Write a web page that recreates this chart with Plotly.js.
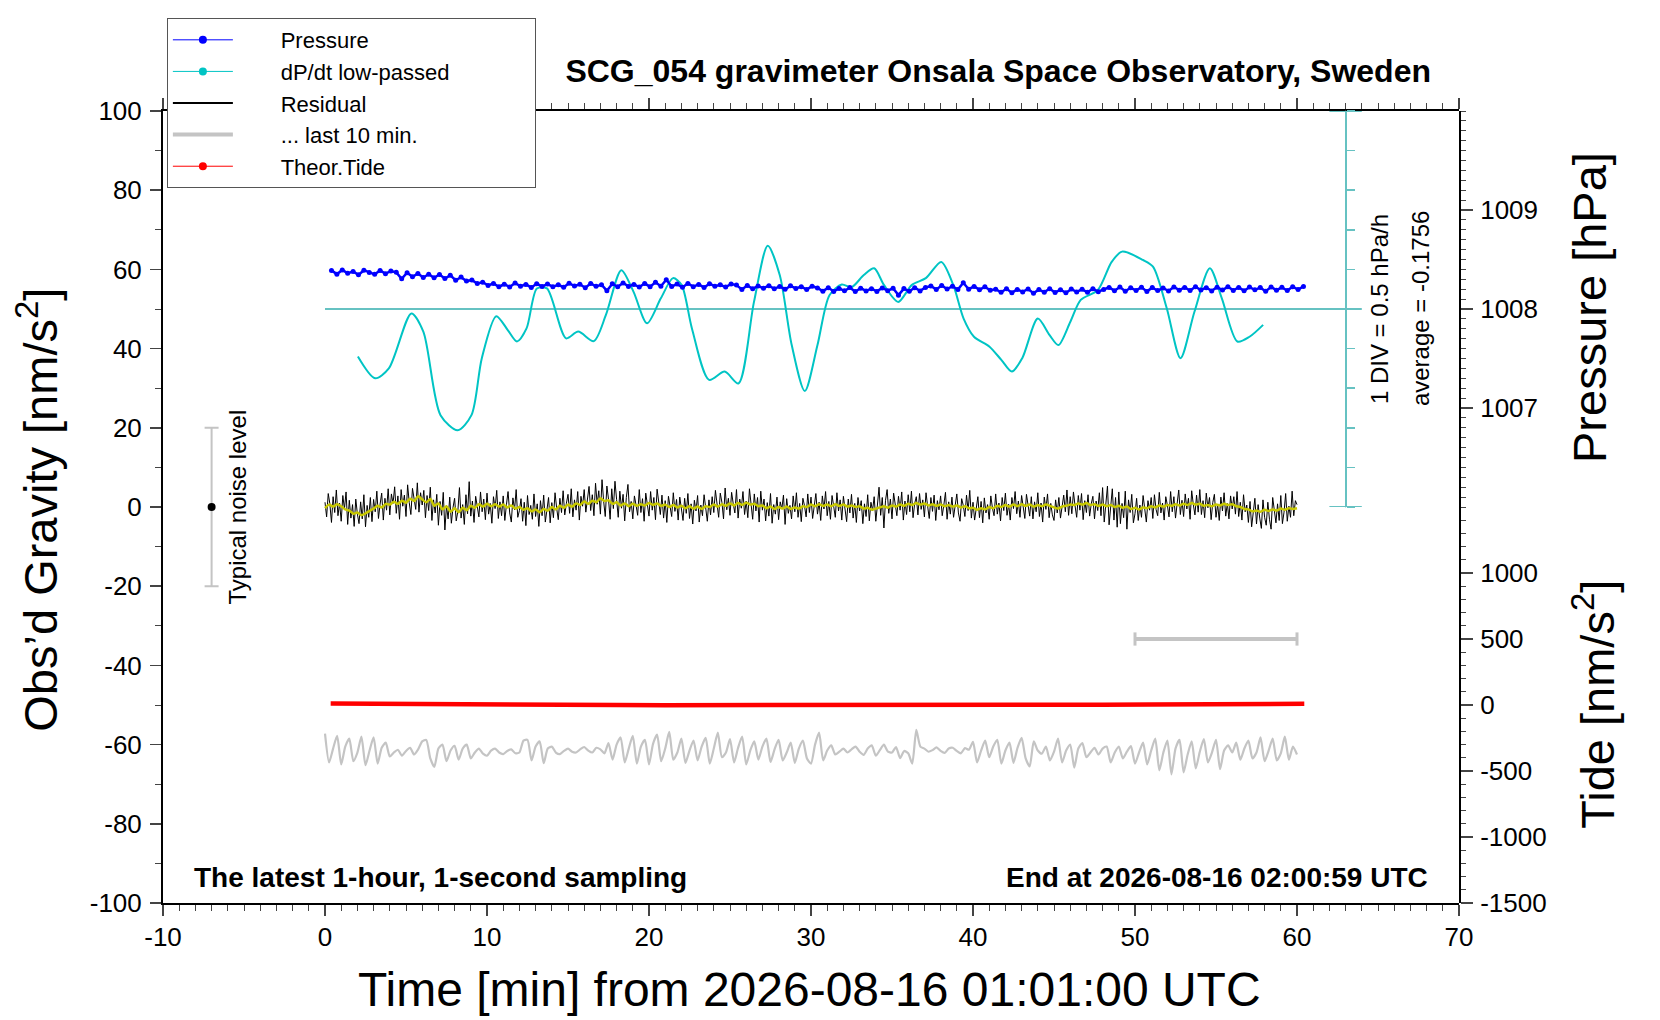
<!DOCTYPE html>
<html><head><meta charset="utf-8">
<script src="https://cdn.plot.ly/plotly-3.0.1.min.js"></script>
<style>html,body{margin:0;padding:0;background:#fff}#chart{width:1660px;height:1020px}</style>
</head><body><div id="chart"></div>
<script>
// ---------------- DATA ----------------
// Pressure [hPa], 20-s samples starting at t=0.4 min
const pressureStart = 0.4, pressureStep = 1/3;
const pressure = [
1008.390,1008.352,1008.395,1008.360,1008.380,1008.345,1008.392,1008.368,1008.350,1008.388,1008.357,1008.383,
1008.370,1008.305,1008.366,1008.325,1008.358,1008.318,1008.352,1008.315,1008.348,1008.308,1008.340,1008.290,
1008.322,1008.282,1008.292,1008.258,1008.270,1008.238,
1008.258,1008.225,1008.250,1008.222,1008.262,1008.230,1008.248,1008.218,1008.255,1008.228,1008.252,1008.226,1008.244,1008.220,1008.260,
1008.232,1008.250,1008.215,1008.258,1008.229,1008.246,1008.185,1008.255,1008.224,1008.262,1008.228,1008.248,1008.222,1008.257,1008.226,
1008.270,1008.230,1008.295,1008.228,1008.252,1008.220,1008.258,1008.226,1008.248,1008.218,1008.256,1008.231,1008.245,1008.221,1008.253,
1008.242,1008.198,1008.238,1008.205,1008.232,1008.210,1008.236,1008.204,1008.228,1008.200,1008.234,1008.208,1008.226,1008.196,1008.230,
1008.212,1008.180,1008.214,1008.178,1008.208,1008.184,1008.216,1008.176,1008.210,1008.182,1008.205,1008.178,1008.213,1008.185,1008.209,
1008.140,1008.206,1008.179,1008.215,1008.183,1008.218,
1008.232,1008.198,1008.238,1008.202,1008.230,1008.196,1008.265,1008.200,1008.228,1008.195,1008.224,1008.190,
1008.200,1008.168,1008.204,1008.165,1008.198,1008.172,1008.202,1008.160,1008.196,1008.170,1008.205,1008.167,1008.195,1008.163,1008.201,
1008.172,1008.199,1008.168,1008.204,1008.175,1008.197,
1008.218,1008.185,1008.222,1008.180,1008.214,1008.188,1008.219,1008.178,1008.216,1008.186,1008.212,1008.182,
1008.222,1008.190,1008.218,1008.186,1008.225,1008.192,1008.215,1008.183,1008.220,1008.191,1008.224,1008.188,1008.217,1008.185,1008.221,
1008.194,1008.216,1008.180,1008.223,1008.190,1008.219,1008.187,1008.226,1008.196,1008.228
];

// dP/dt low-passed [hPa/h]
const dpdtAverage = -0.1756;
const dpdtDiv = 0.5;
const dpdtTime = [2.03,3.09,3.94,5.33,6.07,7.13,8.19,9.04,9.68,10.57,11.28,11.85,12.44,13.08,13.70,14.88,15.63,16.59,17.34,18.29,
19.04,19.88,20.73,21.48,22.01,22.65,23.71,24.67,25.52,26.48,27.33,28.07,28.81,29.62,30.40,31.14,31.90,32.50,33.26,33.90,
34.50,35.38,36.23,37.09,38.04,38.78,39.42,40.06,41.02,41.76,42.40,43.04,44.00,44.73,45.27,46.01,46.65,47.71,48.56,49.20,
50.48,51.11,51.96,52.81,53.67,54.62,55.36,56.32,57.07,57.91];
const dpdtValues = [-0.776,-1.051,-0.926,-0.231,-0.461,-1.516,-1.706,-1.516,-0.796,-0.266,-0.441,-0.586,-0.421,0.084,0.084,-0.546,-0.461,-0.581,-0.251,0.314,
0.044,-0.356,-0.041,0.214,0.129,-0.421,-1.071,-0.966,-1.116,-0.086,0.624,0.254,-0.631,-1.211,-0.631,-0.001,0.134,0.099,0.254,0.339,
0.129,-0.086,0.129,0.214,0.419,0.129,-0.296,-0.526,-0.651,-0.821,-0.966,-0.796,-0.296,-0.506,-0.631,-0.336,-0.061,0.064,0.419,0.549,
0.444,0.359,-0.166,-0.796,-0.211,0.339,-0.041,-0.586,-0.526,-0.376];
const dpdtLineX = [0, 64];
const divScaleX = 63;

// Residual [nm/s^2], 6-s samples from t=0 (one row = 1 minute)
const residualStart = 0, residualStep = 0.1;
const residual = [
1.2,-2.5,3.4,0.8,-3.9,2.6,-1.4,4.3,-2.2,1.0,
-3.6,2.9,-0.5,3.8,-4.4,1.7,-2.8,0.6,-4.9,2.0,
-1.8,-4.2,1.3,-3.0,3.1,-5.0,0.4,-2.6,2.4,-3.7,
1.9,-1.2,4.0,-2.9,0.7,3.5,-3.3,2.2,-0.8,4.6,
-2.0,3.3,0.9,5.1,-1.6,2.8,-3.1,4.4,0.2,3.0,
-2.4,5.6,1.1,-1.9,4.7,2.3,-0.6,6.1,-1.3,3.6,
0.5,4.2,-2.7,2.9,-0.9,5.0,-3.4,1.8,-1.5,3.2,
-4.6,1.4,-2.1,3.7,-5.8,0.3,-3.0,2.5,-4.1,-0.2,
2.2,-3.5,-1.1,4.9,-2.8,0.6,-4.4,3.1,-1.7,6.4,
-2.3,1.5,-3.9,2.7,0.1,-2.5,3.8,-1.2,2.0,-3.2,
3.5,-1.8,0.9,-4.1,2.6,-0.4,4.2,-2.9,1.3,-2.2,
2.8,-3.4,0.6,3.9,-1.5,-3.8,2.3,-0.7,4.4,-2.6,
-0.9,2.1,-3.6,1.2,-4.7,2.9,-1.9,0.4,-3.1,3.3,
-2.4,0.8,-4.9,1.6,-2.2,3.0,-3.8,-0.6,2.4,-4.0,
1.1,-2.7,3.6,-0.3,-3.2,2.2,-1.4,4.1,-2.0,0.9,
3.2,-1.6,4.6,-2.5,1.8,-0.8,3.9,-3.3,2.7,0.2,
4.4,-1.3,2.6,5.2,-0.9,3.1,-2.2,6.0,0.7,4.1,
-1.8,6.9,1.5,-2.4,5.3,2.0,-3.1,4.6,-0.4,6.5,
1.9,-2.6,4.0,-0.3,3.2,-3.5,2.4,5.7,-1.2,1.4,
-3.0,2.8,0.5,-2.1,4.4,-1.4,2.1,-3.6,3.5,0.6,
-2.3,3.9,-0.8,2.4,-3.2,4.5,0.9,-1.9,3.0,-2.8,
1.6,-3.9,2.7,0.3,-2.4,3.6,-1.1,1.9,-3.3,2.5,
-0.6,-3.4,2.2,-1.6,3.4,-2.9,0.8,-4.3,1.7,-1.0,
2.9,-3.8,0.5,-2.2,3.1,-0.4,-3.6,1.8,-2.0,2.6,
-1.4,4.2,0.3,-2.6,3.5,1.2,-3.0,4.8,-0.7,2.2,
-2.1,3.7,0.8,-1.5,4.4,-2.8,2.0,-0.3,3.9,-1.9,
1.5,-2.7,4.6,0.2,-3.1,3.3,-1.0,2.4,-3.8,4.0,
-0.8,2.0,-3.5,1.1,-2.3,3.4,-4.1,0.6,-1.8,2.5,
-3.2,1.3,-0.5,3.0,-4.4,2.1,-1.6,0.4,-3.0,2.8,
-1.2,3.6,-2.6,0.9,-3.7,2.2,0.3,-2.5,3.3,-1.4,
2.5,-2.9,0.6,3.4,-1.8,1.2,-3.4,2.8,-0.5,3.9,
-2.2,1.4,-3.1,2.9,0.2,-2.6,3.6,-1.0,1.8,-3.3,
2.7,-0.6,-3.7,2.0,-1.5,3.2,-2.8,0.9,-3.9,2.4,
-1.0,1.6,-4.2,0.8,-2.4,3.1,-3.5,1.2,-0.9,2.6,
-3.6,0.5,5.0,-2.1,2.4,-5.3,1.7,4.4,-1.6,2.0,
-3.0,3.5,0.4,-2.2,2.7,-0.8,3.8,-3.3,1.5,-1.9,
3.1,-1.2,4.0,-2.7,0.9,2.6,-2.0,3.4,-0.6,1.8,
-2.5,3.6,0.2,-2.9,2.4,-1.1,3.0,-3.4,1.6,-0.7,
2.8,-2.2,0.5,3.7,-3.1,1.3,-1.8,2.5,-2.6,0.8,
3.3,-1.5,-3.6,2.1,0.4,-2.4,3.0,-0.9,4.2,-2.8,
1.2,-3.3,-0.8,2.6,-2.7,1.4,-4.0,2.3,-1.5,0.6,
-3.1,2.8,-0.3,-2.2,3.3,-1.8,1.0,-3.5,2.4,-0.9,
3.5,-2.1,0.7,-3.3,2.4,-0.4,3.9,-1.7,1.5,-2.6,
2.9,-0.8,-2.9,3.2,0.4,-2.3,2.6,-3.0,1.3,-1.2,
3.6,-2.4,1.0,-3.8,2.5,-0.6,3.3,-2.7,0.9,-2.0,
-3.4,1.8,-1.5,2.4,-2.8,0.6,3.0,-1.2,4.3,-2.1,
2.6,-1.7,3.8,0.3,-2.6,2.9,-0.8,3.4,-3.2,1.6,
-1.4,3.1,-2.3,0.8,2.7,-3.0,1.5,-0.9,3.6,-2.2,
4.9,-3.8,1.2,5.3,-4.5,0.6,4.6,-3.3,2.4,-5.1,
3.8,-4.2,0.9,-2.7,4.0,-5.6,1.8,-1.4,3.2,-4.0,
-1.7,2.2,-3.4,0.5,-2.6,2.9,-1.1,-3.8,1.6,-0.8,
2.4,-2.9,3.1,-0.6,-2.2,3.7,-1.5,1.0,-3.3,2.6,
0.4,-2.5,3.9,-1.2,2.6,-2.8,0.8,4.3,-1.9,1.7,
-2.4,3.3,-0.5,2.2,-3.1,4.1,0.6,-2.0,3.0,-1.3,
4.4,-1.9,1.6,-2.7,3.5,-0.2,2.4,-3.2,1.1,3.2,
-2.6,0.7,-3.4,2.5,-1.0,3.6,-2.3,0.9,-3.0,2.8,
-0.5,2.6,-1.8,3.9,-2.4,1.2,-3.3,3.1,-1.2,0.5,
-3.9,1.4,-5.0,-1.6,2.2,-4.3,0.6,-2.8,-5.4,1.8,
-2.6,-4.6,1.2,-3.1,-5.6,2.4,-1.7,-4.0,0.8,-3.4,
2.9,-4.2,-1.3,3.4,-3.6,0.2,-2.6,4.0,-2.2,1.6,
0.6];

// Low-passed residual (yellow), 15-s samples from t=0
const smoothStart = 0, smoothStep = 0.25;
const residualSmooth = [
-0.3,0.6,0.1,0.7,0.2,-0.6,-0.9,-1.7,-1.4,-2.1,-1.6,-1.0,
-0.4,0.3,-0.1,0.8,0.6,1.3,0.8,1.6,1.1,2.1,1.5,2.7,
1.9,1.2,2.0,0.3,0.9,-0.6,0.2,-1.2,-0.3,-1.3,-0.2,-0.8,
0.3,-0.2,0.7,0.1,0.8,0.2,0.7,0.1,0.6,-0.1,0.4,-0.4,
0.0,-0.7,-0.3,-1.1,-0.6,-1.3,-0.5,-0.9,0.0,-0.6,0.3,-0.2,
0.6,0.1,0.9,0.5,1.4,0.8,1.6,1.2,2.2,1.5,1.7,0.8,
1.2,0.4,0.9,0.2,0.8,0.3,0.7,0.4,1.0,0.5,0.9,0.3,
0.6,0.0,0.5,-0.1,0.3,-0.3,0.2,-0.4,0.1,-0.5,0.2,0.0,
0.6,0.1,0.7,0.3,0.9,0.4,1.0,0.5,1.1,0.6,0.8,0.2,
0.4,-0.3,0.1,-0.5,0.0,-0.4,0.1,-0.5,-0.1,-0.4,0.2,0.0,
0.6,0.2,0.7,0.3,0.6,0.2,0.7,0.3,0.6,0.1,0.4,0.0,
0.2,-0.4,-0.2,-0.7,-0.4,-0.1,0.2,-0.2,0.4,0.1,0.6,0.3,
0.8,0.5,1.0,0.6,0.9,0.4,0.7,0.3,0.6,0.2,0.5,0.1,
0.4,-0.1,0.2,-0.3,-0.2,-0.7,-0.3,-0.6,0.0,-0.3,0.3,0.0,
0.5,0.1,0.6,0.2,0.7,0.3,0.6,0.1,0.5,0.2,0.6,0.3,
-0.1,-0.4,0.1,0.3,0.6,0.5,0.9,0.6,1.0,0.5,0.7,0.3,
0.6,0.2,0.5,0.0,0.3,-0.2,0.1,-0.5,-0.2,-0.6,-0.1,-0.3,
0.2,-0.1,0.4,0.1,0.5,0.3,0.7,0.4,0.8,0.5,1.0,0.6,
0.8,0.3,0.5,0.2,0.6,0.4,0.8,0.5,0.7,0.2,0.0,-0.5,
-0.6,-1.1,-0.9,-1.2,-0.7,-1.0,-0.6,-0.9,-0.4,-0.7,-0.3,-0.5,
-0.3];

// "... last 10 min." residual, drawn stretched over the hour, 15-s steps
const lastTenStart = 0, lastTenStep = 0.25;
const lastTen = [
-57.2,-64.5,-61.0,-57.8,-65.0,-60.5,-58.5,-64.2,-62.0,-58.0,-65.2,-61.5,
-58.2,-64.8,-60.8,-59.5,-63.0,-62.0,-61.3,-62.8,-61.6,-60.8,-62.5,-61.2,
-59.2,-58.8,-63.5,-65.6,-61.0,-60.0,-64.2,-61.5,-60.3,-63.8,-61.0,-60.0,
-63.5,-62.0,-61.0,-62.3,-62.8,-61.5,-61.0,-62.0,-62.4,-61.6,-61.2,-62.2,
-62.0,-59.0,-58.8,-64.0,-60.5,-59.2,-64.7,-61.0,-60.5,-62.0,-62.4,-61.6,
-61.0,-61.8,-62.0,-61.2,-60.6,-61.5,-62.0,-60.8,-61.2,-62.2,-59.6,-63.8,
-60.0,-58.2,-64.5,-61.0,-57.8,-64.8,-60.5,-58.8,-65.0,-59.8,-57.5,-64.2,
-61.0,-56.8,-63.8,-62.0,-58.5,-64.6,-61.5,-59.0,-64.0,-60.5,-58.3,-64.8,
-61.0,-57.0,-63.2,-62.0,-58.6,-64.5,-60.8,-58.0,-65.0,-61.5,-59.2,-63.8,
-60.5,-58.5,-64.4,-61.2,-58.8,-64.0,-62.0,-59.5,-64.6,-61.0,-59.0,-63.5,
-64.8,-60.0,-57.0,-64.0,-61.5,-60.2,-62.5,-61.8,-61.0,-62.0,-61.2,-60.5,
-61.8,-62.6,-61.0,-60.2,-62.8,-61.4,-60.0,-61.8,-62.0,-60.6,-63.4,-61.6,
-62.2,-64.8,-56.3,-60.5,-61.0,-61.8,-61.4,-60.7,-61.6,-62.1,-61.0,-60.8,
-61.6,-62.2,-60.9,-61.3,-59.3,-64.5,-61.5,-59.0,-63.2,-60.5,-58.8,-64.8,
-61.5,-59.5,-64.6,-60.8,-58.3,-63.5,-65.5,-59.2,-61.5,-62.3,-60.5,-64.0,
-61.8,-58.5,-64.5,-61.5,-60.0,-65.8,-61.0,-59.6,-63.2,-62.0,-60.8,-62.5,
-61.0,-60.5,-64.5,-62.0,-60.5,-63.5,-61.8,-60.4,-64.8,-62.0,-59.5,-65.0,
-61.5,-58.5,-66.5,-62.0,-59.0,-67.5,-61.0,-58.8,-67.0,-62.5,-59.2,-66.0,
-61.8,-58.6,-64.5,-62.0,-58.8,-66.2,-61.5,-60.2,-62.0,-59.5,-63.8,-61.0,
-59.0,-63.5,-62.0,-58.2,-64.2,-61.5,-58.5,-64.0,-62.2,-58.0,-63.8,-60.5,
-62.5];

// Theoretical tide [nm/s^2]
const tideTime = [0.35,3,6,9,12,15,18,21,24,27,30,33,36,39,42,45,48,51,54,57,60.45];
const tideValues = [12,9,6,4,2,1,0,-1,-1.5,-2,-2,-2,-1.5,-1,0,1,2,3.5,5,7,9];

// Typical noise level marker (gravity axis)
const noiseX = [-7], noiseY = [0], noiseHalf = [20];
// Span of "last 10 min." (tide axis)
const lastTenSpanX = [50, 60], lastTenSpanY = [500, 500], lastTenCap = [50, 50];

// Legend labels
const legendNames = ['Pressure', 'dP/dt low-passed', 'Residual', '... last 10 min.', 'Theor.Tide'];

// Tick labels
const xTickVals = [-10,0,10,20,30,40,50,60,70];
const xTickText = ['-10','0','10','20','30','40','50','60','70'];
const gTickVals = [-100,-80,-60,-40,-20,0,20,40,60,80,100];
const gTickText = ['-100','-80','-60','-40','-20','0','20','40','60','80','100'];
const pTickVals = [1007,1008,1009];
const pTickText = ['1007','1008','1009'];
const tTickVals = [-1500,-1000,-500,0,500,1000];
const tTickText = ['-1500','-1000','-500','0','500','1000'];

// ---------------- BUILD ----------------
function grid(start, step, n){ const a=[]; for(let i=0;i<n;i++) a.push(+(start+i*step).toFixed(4)); return a; }
const NB = '\u00a0';
const lead = NB.repeat(7);
function legendLabel(i){ return lead + legendNames[i] + (i===1 ? NB.repeat(13) : ''); }

const FONT = 'Liberation Sans, Arial, Helvetica, sans-serif';
const TEAL = '#66c2c2', CYAN = '#00c4c4', GRAY = '#c4c4c4';

const traces = [
  // gravity axis (y)
  {x: grid(lastTenStart,lastTenStep,lastTen.length), y: lastTen, xaxis:'x', yaxis:'y', mode:'lines',
   line:{color:GRAY, width:2.2, shape:'spline', smoothing:0.6}, showlegend:false, hoverinfo:'skip'},
  {x: grid(residualStart,residualStep,residual.length), y: residual, xaxis:'x', yaxis:'y', mode:'lines',
   line:{color:'#000', width:1}, showlegend:false, hoverinfo:'skip'},
  {x: grid(smoothStart,smoothStep,residualSmooth.length), y: residualSmooth, xaxis:'x', yaxis:'y', mode:'lines',
   line:{color:'#c8c800', width:2.5, shape:'spline', smoothing:0.6}, showlegend:false, hoverinfo:'skip'},
  {x: noiseX, y: noiseY, xaxis:'x', yaxis:'y', mode:'markers', marker:{color:'#000', size:8},
   error_y:{type:'data', array:noiseHalf, color:GRAY, thickness:2, width:7}, showlegend:false, cliponaxis:false, hoverinfo:'skip'},
  // dP/dt scale (y2, upper half)
  {x: dpdtLineX, y: [dpdtAverage, dpdtAverage], xaxis:'x', yaxis:'y2', mode:'lines',
   line:{color:TEAL, width:2}, showlegend:false, hoverinfo:'skip', cliponaxis:false},
  {x: [divScaleX, divScaleX], y: [dpdtAverage-5*dpdtDiv, dpdtAverage+5*dpdtDiv], xaxis:'x', yaxis:'y2', mode:'markers',
   marker:{size:1, color:TEAL}, error_x:{type:'data', array:[1,1], color:TEAL, thickness:2, width:0},
   showlegend:false, cliponaxis:false, hoverinfo:'skip'},
  {x: dpdtTime, y: dpdtValues, xaxis:'x', yaxis:'y2', mode:'lines',
   line:{color:CYAN, width:2, shape:'spline', smoothing:0.8}, showlegend:false, hoverinfo:'skip'},
  // pressure (y3, upper half)
  {x: grid(pressureStart,pressureStep,pressure.length), y: pressure, xaxis:'x', yaxis:'y3', mode:'lines+markers',
   line:{color:'#0000ff', width:2.5}, marker:{color:'#0000ff', size:5}, showlegend:false, hoverinfo:'skip'},
  // tide (y4, lower half)
  {x: lastTenSpanX, y: lastTenSpanY, xaxis:'x', yaxis:'y4', mode:'lines', line:{color:GRAY, width:4},
   error_y:{type:'data', array:lastTenCap, color:GRAY, thickness:3, width:0}, showlegend:false, hoverinfo:'skip', cliponaxis:false},
  {x: tideTime, y: tideValues, xaxis:'x', yaxis:'y4', mode:'lines',
   line:{color:'#ff0000', width:4.5}, showlegend:false, hoverinfo:'skip'},
  // legend entries
  {x:[null], y:[null], name:legendLabel(0), mode:'lines+markers', line:{color:'#0000ff', width:1}, marker:{color:'#0000ff', size:8}},
  {x:[null], y:[null], name:legendLabel(1), mode:'lines+markers', line:{color:CYAN, width:1}, marker:{color:CYAN, size:8}},
  {x:[null], y:[null], name:legendLabel(2), mode:'lines', line:{color:'#000', width:2}},
  {x:[null], y:[null], name:legendLabel(3), mode:'lines', line:{color:GRAY, width:4}},
  {x:[null], y:[null], name:legendLabel(4), mode:'lines+markers', line:{color:'#ff0000', width:1}, marker:{color:'#ff0000', size:8}}
];

const tickFont = {family:FONT, size:26, color:'#000'};
const bigTitle = {family:FONT, size:47, color:'#000'};
const layout = {
  width:1660, height:1020,
  margin:{l:163, r:201, t:111, b:117},
  paper_bgcolor:'#fff', plot_bgcolor:'rgba(0,0,0,0)',
  font:{family:FONT, color:'#000'},
  title:{text:'<b>SCG_054 gravimeter Onsala Space Observatory, Sweden</b>', xref:'paper', x:0.9784, xanchor:'right',
         yref:'container', y:1-71/1020, yanchor:'middle', font:{family:FONT, size:32, color:'#000'}},
  showlegend:true,
  legend:{x:0.003, y:1.1174, xanchor:'left', yanchor:'top', bgcolor:'#fff', bordercolor:'#555', borderwidth:1,
          font:{family:FONT, size:22, color:'#000'}, itemwidth:60, tracegroupgap:0},
  xaxis:{range:[-10,70], tickmode:'array', tickvals:xTickVals, ticktext:xTickText, ticks:'outside', ticklen:11, tickwidth:1.5,
         minor:{tickmode:'linear', tick0:0, dtick:1, ticks:'outside', ticklen:6, tickwidth:1},
         showline:true, linewidth:2, linecolor:'#000', mirror:'ticks', showgrid:false, zeroline:false,
         tickfont:tickFont, ticklabelstandoff:-1},
  yaxis:{domain:[0,1], range:[-100,100], tickmode:'array', tickvals:gTickVals, ticktext:gTickText, ticks:'outside', ticklen:11, tickwidth:1.5,
         minor:{tickmode:'linear', tick0:0, dtick:10, ticks:'outside', ticklen:6, tickwidth:1},
         showline:true, linewidth:2, linecolor:'#000', showgrid:false, zeroline:false, tickfont:tickFont, ticklabelstandoff:3},
  yaxis2:{domain:[0.5,1], anchor:'free', position:(divScaleX+10)/80, side:'right',
          range:[dpdtAverage-5*dpdtDiv, dpdtAverage+5*dpdtDiv], tickmode:'linear', tick0:dpdtAverage, dtick:dpdtDiv,
          ticks:'outside', ticklen:8, tickwidth:1.5, tickcolor:TEAL, showticklabels:false,
          showline:true, linewidth:2, linecolor:TEAL, showgrid:false, zeroline:false, automargin:false,
          title:{text:'1 DIV = '+dpdtDiv+' hPa/h', font:{family:FONT, size:24, color:'#000'}, standoff:17}},
  yaxis3:{domain:[0.5,1], anchor:'x', side:'right', range:[1006,1010], tickmode:'array', tickvals:pTickVals, ticktext:pTickText,
          ticks:'outside', ticklen:12, tickwidth:1.5,
          minor:{tickmode:'linear', tick0:1006, dtick:0.1, ticks:'outside', ticklen:5, tickwidth:1},
          showline:true, linewidth:2, linecolor:'#000', showgrid:false, zeroline:false, tickfont:tickFont, ticklabelstandoff:2},
  yaxis4:{domain:[0,0.5], anchor:'x', side:'right', range:[-1500,1500], tickmode:'array', tickvals:tTickVals, ticktext:tTickText,
          ticks:'outside', ticklen:12, tickwidth:1.5,
          minor:{tickmode:'linear', tick0:-1500, dtick:100, ticks:'outside', ticklen:5, tickwidth:1},
          showline:true, linewidth:2, linecolor:'#000', showgrid:false, zeroline:false, tickfont:tickFont, ticklabelstandoff:2},
  annotations:[
    {text:'<b>The latest 1-hour, 1-second sampling</b>', xref:'paper', yref:'paper', x:0.0224, y:0.0316,
     xanchor:'left', yanchor:'middle', showarrow:false, font:{family:FONT, size:28, color:'#000'}},
    {text:'<b>End at 2026-08-16 02:00:59 UTC</b>', xref:'paper', yref:'paper', x:0.9776, y:0.0316,
     xanchor:'right', yanchor:'middle', showarrow:false, font:{family:FONT, size:28, color:'#000'}},
    {text:'Time [min] from 2026-08-16 01:01:00 UTC', xref:'paper', yref:'paper', x:0.4992, y:-0.1098,
     xanchor:'center', yanchor:'middle', showarrow:false, font:{family:FONT, size:48, color:'#000'}},
    {text:'Obs’d Gravity [nm/s<sup>2</sup>]', xref:'paper', yref:'paper', x:-0.0967, y:0.4962, textangle:-90,
     xanchor:'center', yanchor:'middle', showarrow:false, font:bigTitle},
    {text:'Pressure [hPa]', xref:'paper', yref:'paper', x:1.1011, y:0.7513, textangle:-90,
     xanchor:'center', yanchor:'middle', showarrow:false, font:bigTitle},
    {text:'Tide [nm/s<sup>2</sup>]', xref:'paper', yref:'paper', x:1.104, y:0.2513, textangle:-90,
     xanchor:'center', yanchor:'middle', showarrow:false, font:bigTitle},
    {text:'Typical noise level', xref:'x', yref:'y', x:-5.46, y:0, textangle:-90,
     xanchor:'center', yanchor:'middle', showarrow:false, font:{family:FONT, size:24, color:'#000'}},
    {text:'average = '+dpdtAverage, xref:'x', yref:'y', x:67.6, y:50, textangle:-90,
     xanchor:'center', yanchor:'middle', showarrow:false, font:{family:FONT, size:24, color:'#000'}}
  ]
};

Plotly.newPlot('chart', traces, layout, {displayModeBar:false, staticPlot:true});
</script></body></html>
